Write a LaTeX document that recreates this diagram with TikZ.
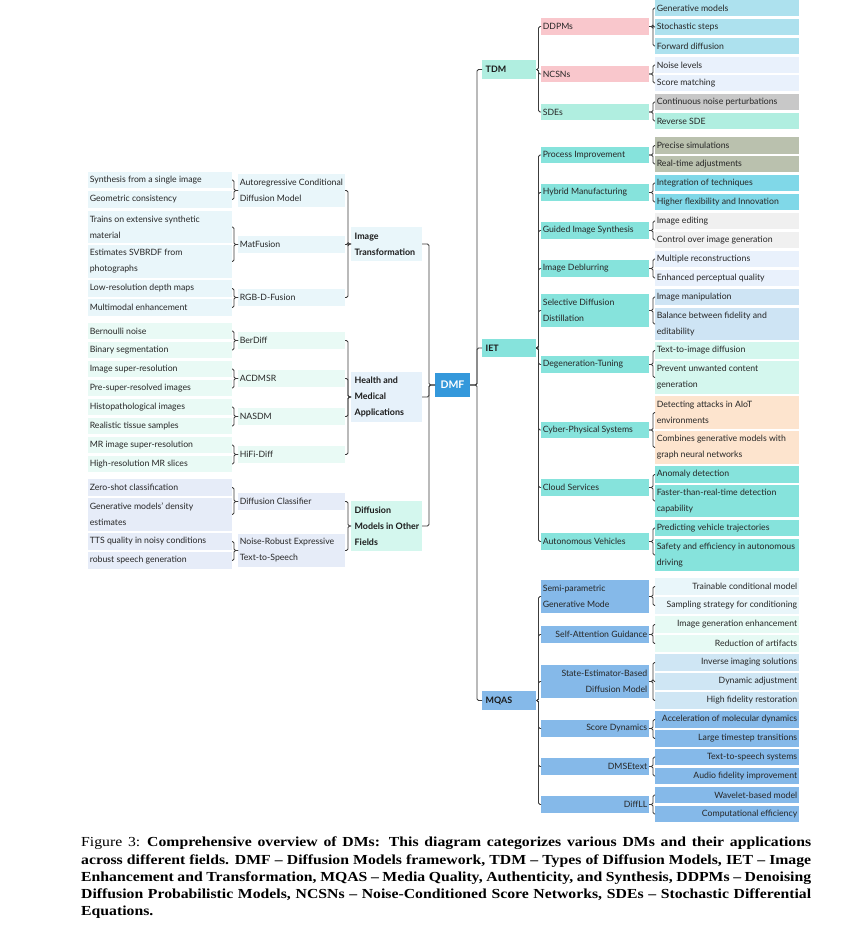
\documentclass[tikz,border=0pt]{standalone}
\usepackage{fontspec}
\setmainfont{Lato}
\newfontfamily\capfont[FakeStretch=1.14]{Liberation Serif}
\definecolor{cPink}{RGB}{249,199,204}
\definecolor{cMint}{RGB}{176,238,224}
\definecolor{cPowder}{RGB}{173,225,238}
\definecolor{cLav}{RGB}{233,241,252}
\definecolor{cGray}{RGB}{200,200,200}
\definecolor{cTurq}{RGB}{134,227,220}
\definecolor{cSage}{RGB}{186,193,174}
\definecolor{cSky}{RGB}{128,216,232}
\definecolor{cLGray}{RGB}{240,240,240}
\definecolor{cSteel}{RGB}{206,228,244}
\definecolor{cLMint}{RGB}{212,247,238}
\definecolor{cPeach}{RGB}{253,228,206}
\definecolor{cBlue}{RGB}{133,185,233}
\definecolor{cIce}{RGB}{233,246,250}
\definecolor{cPMint}{RGB}{230,250,244}
\definecolor{cLBlue}{RGB}{207,230,244}
\definecolor{cHealth}{RGB}{230,241,250}
\definecolor{cHLeaf}{RGB}{233,250,245}
\definecolor{cOther}{RGB}{230,236,248}
\definecolor{cDMF}{RGB}{52,152,219}
\definecolor{cLine}{RGB}{60,60,60}
\tikzset{
  box/.style={inner sep=0pt, outer sep=0pt, draw=none},
  leafR/.style={box, minimum width=144pt},
  midR/.style={box, minimum width=108pt},
  topR/.style={box, minimum width=54pt},
  leafL/.style={box, minimum width=144pt},
  midL/.style={box, minimum width=107pt},
  topL/.style={box, minimum width=71pt},
  dmfbox/.style={box, minimum width=35pt},
  tn/.style={inner xsep=1.6pt, inner ysep=0pt, text=black!85,
    font=\fontsize{8.7}{16}\selectfont},
  tb/.style={inner xsep=3.5pt, inner ysep=0pt, text=black!90,
    font=\fontsize{8.9}{16}\selectfont\bfseries},
  edge/.style={draw=cLine, line width=0.75pt, rounded corners=1.5pt}
}
\newcommand\bxl[8]{\pgfmathsetmacro\myyc{(#5+#6)/2}\pgfmathsetmacro\myhh{#6-#5}%
  \node[#2,fill=#3,minimum height=\myhh pt] (#1) at (#4,\myyc) {};
  \node[#7,anchor=west,align=left] at (#1.west) {#8};}
\newcommand\bxr[8]{\pgfmathsetmacro\myyc{(#5+#6)/2}\pgfmathsetmacro\myhh{#6-#5}%
  \node[#2,fill=#3,minimum height=\myhh pt] (#1) at (#4,\myyc) {};
  \node[#7,anchor=east,align=right] at (#1.east) {#8};}
\newcommand\conR[3]{\foreach \chn in {#3}{\draw[edge] (#1.east) -- ++(#2,0) |- (\chn.west);}}
\newcommand\conL[3]{\foreach \chn in {#3}{\draw[edge] (#1.west) -- ++(-#2,0) |- (\chn.east);}}
\begin{document}
\begin{tikzpicture}[x=1pt,y=-1pt]
\fill[white] (0,0) rectangle (854,934);
\useasboundingbox (0,0) rectangle (854,934);
% ---------------- DMF
\node[dmfbox, fill=cDMF, minimum height=24pt] (dmf) at (452.5,385) {};
\node[text=white, inner sep=0pt, font=\fontsize{10.5}{12}\selectfont\bfseries] at (dmf.center) {DMF};
% ---------------- right level 1
\bxl{tdm}{topR}{cMint}{509}{60}{79}{tb}{TDM}
\bxl{iet}{topR}{cTurq}{509}{339}{357}{tb}{IET}
\bxl{mqas}{topR}{cBlue}{509}{691}{710}{tb}{MQAS}
% ---------------- TDM
\bxl{ddpm}{midR}{cPink}{595}{18}{35}{tn}{DDPMs}
\bxl{ncsn}{midR}{cPink}{595}{66}{82}{tn}{NCSNs}
\bxl{sde}{midR}{cMint}{595}{104}{120}{tn}{SDEs}
\bxl{t1}{leafR}{cPowder}{727}{0}{16}{tn}{Generative models}
\bxl{t2}{leafR}{cPowder}{727}{19}{35}{tn}{Stochastic steps}
\bxl{t3}{leafR}{cPowder}{727}{38}{54}{tn}{Forward diffusion}
\bxl{t4}{leafR}{cLav}{727}{57}{73}{tn}{Noise levels}
\bxl{t5}{leafR}{cLav}{727}{75}{91}{tn}{Score matching}
\bxl{t6}{leafR}{cGray}{727}{94}{110}{tn}{Continuous noise perturbations}
\bxl{t7}{leafR}{cMint}{727}{113}{129}{tn}{Reverse SDE}
% ---------------- IET
\bxl{pi}{midR}{cTurq}{595}{147}{163}{tn}{Process Improvement}
\bxl{hm}{midR}{cTurq}{595}{184}{201}{tn}{Hybrid Manufacturing}
\bxl{gis}{midR}{cTurq}{595}{222}{239}{tn}{Guided Image Synthesis}
\bxl{idb}{midR}{cTurq}{595}{260}{277}{tn}{Image Deblurring}
\bxl{sdd}{midR}{cTurq}{595}{294}{327}{tn}{Selective Diffusion\\Distillation}
\bxl{dgt}{midR}{cTurq}{595}{356}{373}{tn}{Degeneration-Tuning}
\bxl{cps}{midR}{cTurq}{595}{422}{438}{tn}{Cyber-Physical Systems}
\bxl{cls}{midR}{cTurq}{595}{479}{496}{tn}{Cloud Services}
\bxl{av}{midR}{cTurq}{595}{533}{550}{tn}{Autonomous Vehicles}
\bxl{i1}{leafR}{cSage}{727}{137}{154}{tn}{Precise simulations}
\bxl{i2}{leafR}{cSage}{727}{156}{172}{tn}{Real-time adjustments}
\bxl{i3}{leafR}{cSky}{727}{175}{191}{tn}{Integration of techniques}
\bxl{i4}{leafR}{cSky}{727}{194}{210}{tn}{Higher flexibility and Innovation}
\bxl{i5}{leafR}{cLGray}{727}{213}{229}{tn}{Image editing}
\bxl{i6}{leafR}{cLGray}{727}{232}{248}{tn}{Control over image generation}
\bxl{i7}{leafR}{cLav}{727}{251}{267}{tn}{Multiple reconstructions}
\bxl{i8}{leafR}{cLav}{727}{270}{286}{tn}{Enhanced perceptual quality}
\bxl{i9}{leafR}{cSteel}{727}{289}{305}{tn}{Image manipulation}
\bxl{i10}{leafR}{cSteel}{727}{308}{340}{tn}{Balance between fidelity and\\editability}
\bxl{i11}{leafR}{cLMint}{727}{342}{359}{tn}{Text-to-image diffusion}
\bxl{i12}{leafR}{cLMint}{727}{361}{394}{tn}{Prevent unwanted content\\generation}
\bxl{i13}{leafR}{cPeach}{727}{396}{429}{tn}{Detecting attacks in AIoT\\environments}
\bxl{i14}{leafR}{cPeach}{727}{431}{464}{tn}{Combines generative models with\\graph neural networks}
\bxl{i15}{leafR}{cTurq}{727}{466}{483}{tn}{Anomaly detection}
\bxl{i16}{leafR}{cTurq}{727}{485}{517}{tn}{Faster-than-real-time detection\\capability}
\bxl{i17}{leafR}{cTurq}{727}{520}{536}{tn}{Predicting vehicle trajectories}
\bxl{i18}{leafR}{cTurq}{727}{539}{571}{tn}{Safety and efficiency in autonomous\\driving}
% ---------------- MQAS
\bxl{spg}{midR}{cBlue}{595}{580}{613}{tn}{Semi-parametric\\Generative Mode}
\bxr{sag}{midR}{cBlue}{595}{626}{643}{tn}{Self-Attention Guidance}
\bxr{seb}{midR}{cBlue}{595}{665}{698}{tn}{State-Estimator-Based\\Diffusion Model}
\bxr{scd}{midR}{cBlue}{595}{720}{737}{tn}{Score Dynamics}
\bxr{dmse}{midR}{cBlue}{595}{758}{775}{tn}{DMSEtext}
\bxr{dll}{midR}{cBlue}{595}{796}{813}{tn}{DiffLL}
\bxr{m1}{leafR}{cIce}{727}{578}{595}{tn}{Trainable conditional model}
\bxr{m2}{leafR}{cIce}{727}{597}{614}{tn}{Sampling strategy for conditioning}
\bxr{m3}{leafR}{cPMint}{727}{616}{633}{tn}{Image generation enhancement}
\bxr{m4}{leafR}{cPMint}{727}{635}{652}{tn}{Reduction of artifacts}
\bxr{m5}{leafR}{cLBlue}{727}{654}{671}{tn}{Inverse imaging solutions}
\bxr{m6}{leafR}{cLBlue}{727}{673}{690}{tn}{Dynamic adjustment}
\bxr{m7}{leafR}{cLBlue}{727}{692}{709}{tn}{High fidelity restoration}
\bxr{m8}{leafR}{cBlue}{727}{711}{728}{tn}{Acceleration of molecular dynamics}
\bxr{m9}{leafR}{cBlue}{727}{730}{747}{tn}{Large timestep transitions}
\bxr{m10}{leafR}{cBlue}{727}{749}{765}{tn}{Text-to-speech systems}
\bxr{m11}{leafR}{cBlue}{727}{768}{784}{tn}{Audio fidelity improvement}
\bxr{m12}{leafR}{cBlue}{727}{787}{803}{tn}{Wavelet-based model}
\bxr{m13}{leafR}{cBlue}{727}{806}{822}{tn}{Computational efficiency}
% ---------------- left level 1
\bxl{it}{topL}{cIce}{386.5}{227}{261}{tb}{Image\\Transformation}
\bxl{hma}{topL}{cHealth}{386.5}{372}{422}{tb}{Health and\\Medical\\Applications}
\bxl{dmo}{topL}{cLMint}{386.5}{501}{551}{tb}{Diffusion\\Models in Other\\Fields}
% Image Transformation
\bxl{acd}{midL}{cIce}{291.5}{174}{207}{tn}{Autoregressive Conditional\\Diffusion Model}
\bxl{mf}{midL}{cIce}{291.5}{236}{253}{tn}{MatFusion}
\bxl{rgbd}{midL}{cIce}{291.5}{289}{306}{tn}{RGB-D-Fusion}
\bxl{a1}{leafL}{cIce}{160}{172}{188}{tn}{Synthesis from a single image}
\bxl{a2}{leafL}{cIce}{160}{191}{208}{tn}{Geometric consistency}
\bxl{a3}{leafL}{cIce}{160}{211}{243}{tn}{Trains on extensive synthetic\\material}
\bxl{a4}{leafL}{cIce}{160}{245}{278}{tn}{Estimates SVBRDF from\\photographs}
\bxl{a5}{leafL}{cIce}{160}{280}{297}{tn}{Low-resolution depth maps}
\bxl{a6}{leafL}{cIce}{160}{299}{316}{tn}{Multimodal enhancement}
% Health
\bxl{bd}{midL}{cHLeaf}{291.5}{332}{349}{tn}{BerDiff}
\bxl{acm}{midL}{cHLeaf}{291.5}{370}{387}{tn}{ACDMSR}
\bxl{nas}{midL}{cHLeaf}{291.5}{408}{425}{tn}{NASDM}
\bxl{hfd}{midL}{cHLeaf}{291.5}{446}{463}{tn}{HiFi-Diff}
\bxl{b1}{leafL}{cHLeaf}{160}{323}{339}{tn}{Bernoulli noise}
\bxl{b2}{leafL}{cHLeaf}{160}{342}{358}{tn}{Binary segmentation}
\bxl{b3}{leafL}{cHLeaf}{160}{361}{377}{tn}{Image super-resolution}
\bxl{b4}{leafL}{cHLeaf}{160}{380}{396}{tn}{Pre-super-resolved images}
\bxl{b5}{leafL}{cHLeaf}{160}{399}{415}{tn}{Histopathological images}
\bxl{b6}{leafL}{cHLeaf}{160}{418}{434}{tn}{Realistic tissue samples}
\bxl{b7}{leafL}{cHLeaf}{160}{437}{453}{tn}{MR image super-resolution}
\bxl{b8}{leafL}{cHLeaf}{160}{456}{472}{tn}{High-resolution MR slices}
% Other fields
\bxl{dcl}{midL}{cOther}{291.5}{493}{510}{tn}{Diffusion Classifier}
\bxl{nre}{midL}{cOther}{291.5}{534}{567}{tn}{Noise-Robust Expressive\\Text-to-Speech}
\bxl{c1}{leafL}{cOther}{160}{479}{496}{tn}{Zero-shot classification}
\bxl{c2}{leafL}{cOther}{160}{498}{531}{tn}{Generative models' density\\estimates}
\bxl{c3}{leafL}{cOther}{160}{533}{550}{tn}{TTS quality in noisy conditions}
\bxl{c4}{leafL}{cOther}{160}{552}{569}{tn}{robust speech generation}
% ---------------- connectors
\conR{dmf}{7}{tdm,iet,mqas}
\conL{dmf}{6}{it,hma,dmo}
\conR{tdm}{2.5}{ddpm,ncsn,sde}
\conR{iet}{2.5}{pi,hm,gis,idb,sdd,dgt,cps,cls,av}
\conR{mqas}{2.5}{spg,sag,seb,scd,dmse,dll}
\conR{ddpm}{4}{t1,t2,t3}
\conR{ncsn}{4}{t4,t5}
\conR{sde}{4}{t6,t7}
\conR{pi}{4}{i1,i2}
\conR{hm}{4}{i3,i4}
\conR{gis}{4}{i5,i6}
\conR{idb}{4}{i7,i8}
\conR{sdd}{4}{i9,i10}
\conR{dgt}{4}{i11,i12}
\conR{cps}{4}{i13,i14}
\conR{cls}{4}{i15,i16}
\conR{av}{4}{i17,i18}
\conR{spg}{4}{m1,m2}
\conR{sag}{4}{m3,m4}
\conR{seb}{4}{m5,m6,m7}
\conR{scd}{4}{m8,m9}
\conR{dmse}{4}{m10,m11}
\conR{dll}{4}{m12,m13}
\conL{it}{3}{acd,mf,rgbd}
\conL{hma}{3}{bd,acm,nas,hfd}
\conL{dmo}{3}{dcl,nre}
\conL{acd}{4}{a1,a2}
\conL{mf}{4}{a3,a4}
\conL{rgbd}{4}{a5,a6}
\conL{bd}{4}{b1,b2}
\conL{acm}{4}{b3,b4}
\conL{nas}{4}{b5,b6}
\conL{hfd}{4}{b7,b8}
\conL{dcl}{4}{c1,c2}
\conL{nre}{4}{c3,c4}
% ---------------- caption
\node[anchor=north west, text width=730pt, align=justify, inner sep=0pt,
  font=\capfont\fontsize{13.8}{17.2}\selectfont] (cap) at (81,837)
  {\hyphenpenalty=10000\exhyphenpenalty=10000 Figure 3:\enspace\textbf{Comprehensive overview of DMs: This diagram categorizes various DMs and their applications\linebreak across different fields. DMF – Diffusion Models framework, TDM – Types of Diffusion Models, IET – Image\linebreak Enhancement and Transformation, MQAS – Media Quality, Authenticity, and Synthesis, DDPMs – Denoising\linebreak Diffusion Probabilistic Models, NCSNs – Noise-Conditioned Score Networks, SDEs – Stochastic Differential\linebreak Equations.}\par};
\end{tikzpicture}
\end{document}
